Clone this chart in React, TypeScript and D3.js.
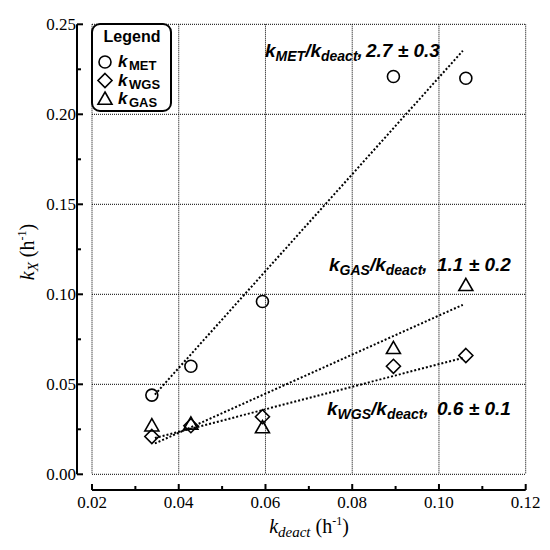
import React from 'react';
import * as d3 from 'd3';

const kDeact = [0.0338, 0.0428, 0.0593, 0.0895, 0.1062];
const kMET = [0.044, 0.060, 0.096, 0.221, 0.220];
const kWGS = [0.021, 0.027, 0.032, 0.060, 0.066];
const kGAS = [0.027, 0.028, 0.026, 0.070, 0.105];

// linear fits: slope, intercept
const fits = [
  { name: 'MET', slope: 2.69, intercept: -0.0485 },
  { name: 'GAS', slope: 1.085, intercept: -0.0203 },
  { name: 'WGS', slope: 0.627, intercept: -0.0015 },
];
const fitRange = [0.0345, 0.1055];

const xTicks = [0.02, 0.04, 0.06, 0.08, 0.10, 0.12];
const xMinor = [0.03, 0.05, 0.07, 0.09, 0.11];
const yTicks = [0.0, 0.05, 0.10, 0.15, 0.20, 0.25];
const yMinor = [0.025, 0.075, 0.125, 0.175, 0.225];

const legendItems = ['MET', 'WGS', 'GAS'];

const SANS = '"Liberation Sans", Arial, sans-serif';
const SERIF = '"Times New Roman", "Liberation Serif", serif';

const x = d3.scaleLinear().domain([0.02, 0.12]).range([92, 525.7]);
const y = d3.scaleLinear().domain([0, 0.25]).range([474.3, 24.3]);

const yAxisX = 77;
const xAxisY = 490;

const Circle = ({ cx, cy }: { cx: number; cy: number }) => (
  <circle cx={cx} cy={cy} r={6} fill="none" stroke="#000" strokeWidth={1.6} />
);
const Diamond = ({ cx, cy }: { cx: number; cy: number }) => {
  const s = 7;
  return (
    <path
      d={`M${cx},${cy - s}L${cx + s},${cy}L${cx},${cy + s}L${cx - s},${cy}Z`}
      fill="none" stroke="#000" strokeWidth={1.6}
    />
  );
};
const Triangle = ({ cx, cy }: { cx: number; cy: number }) => {
  const s = 7;
  return (
    <path
      d={`M${cx},${cy - s}L${cx + s},${cy + s * 0.75}L${cx - s},${cy + s * 0.75}Z`}
      fill="none" stroke="#000" strokeWidth={1.6}
    />
  );
};
const markers = [Circle, Diamond, Triangle];

const Annotation = ({ xk, xv, yb, sub, value }: { xk: number; xv: number; yb: number; sub: string; value: string }) => (
  <g fontFamily={SANS} fontWeight="bold" fontStyle="italic" fill="#000">
    <text x={xk} y={yb} fontSize={19}>
      k<tspan fontSize={14} dy={4}>{sub}</tspan>
      <tspan dy={-4} fontSize={19}>/k</tspan>
      <tspan fontSize={14} dy={4}>deact</tspan>
      <tspan dy={-4} fontSize={19}>,</tspan>
    </text>
    <text x={xv} y={yb} fontSize={19}>{value}</text>
  </g>
);

export default function App() {
  const line = d3.line<number>().x(d => x(d[0])).y(d => y(d[1]));
  return (
    <svg width={550} height={550} style={{ position: 'absolute', left: 0, top: 0, background: '#fff' }}>
      {/* grid */}
      <g stroke="#000" strokeWidth={1} strokeDasharray="1 1">
        {xTicks.map(t => (
          <line key={'gx' + t} x1={x(t)} x2={x(t)} y1={y(0.25)} y2={y(0)} />
        ))}
        {yTicks.map(t => (
          <line key={'gy' + t} x1={x(0.02)} x2={x(0.12)} y1={y(t)} y2={y(t)} />
        ))}
      </g>

      {/* y axis */}
      <g stroke="#000" strokeWidth={2}>
        <line x1={yAxisX} x2={yAxisX} y1={y(0.25)} y2={y(0)} />
        {yTicks.map(t => (
          <line key={'ty' + t} x1={yAxisX} x2={yAxisX + 6} y1={y(t)} y2={y(t)} />
        ))}
        {yMinor.map(t => (
          <line key={'tym' + t} x1={yAxisX} x2={yAxisX + 4} y1={y(t)} y2={y(t)} />
        ))}
      </g>
      {yTicks.map(t => (
        <text key={'ly' + t} x={yAxisX - 1} y={y(t)} dy="0.35em" fontFamily={SERIF} fontSize={17} textAnchor="end" fill="#000">
          {t.toFixed(2)}
        </text>
      ))}

      {/* x axis */}
      <g stroke="#000" strokeWidth={2}>
        <line x1={x(0.02)} x2={x(0.12)} y1={xAxisY} y2={xAxisY} />
        {xTicks.map(t => (
          <line key={'tx' + t} x1={x(t)} x2={x(t)} y1={xAxisY} y2={xAxisY - 6} />
        ))}
        {xMinor.map(t => (
          <line key={'txm' + t} x1={x(t)} x2={x(t)} y1={xAxisY} y2={xAxisY - 4} />
        ))}
      </g>
      {xTicks.map(t => (
        <text key={'lx' + t} x={x(t)} y={508} fontFamily={SERIF} fontSize={17} textAnchor="middle" fill="#000">
          {t.toFixed(2)}
        </text>
      ))}

      {/* axis titles */}
      <text x={309} y={533} fontFamily={SERIF} fontSize={20} textAnchor="middle" fill="#000">
        <tspan fontStyle="italic">k</tspan>
        <tspan fontStyle="italic" fontSize={15} dy={4}>deact</tspan>
        <tspan dy={-4}> (h</tspan>
        <tspan fontSize={12} dy={-8}>-1</tspan>
        <tspan dy={8}>)</tspan>
      </text>
      <text transform="translate(34,252) rotate(-90)" fontFamily={SERIF} fontSize={20} textAnchor="middle" fill="#000">
        <tspan fontStyle="italic">k</tspan>
        <tspan fontStyle="italic" fontSize={15} dy={4}>X</tspan>
        <tspan dy={-4}> (h</tspan>
        <tspan fontSize={12} dy={-8}>-1</tspan>
        <tspan dy={8}>)</tspan>
      </text>

      {/* fit lines */}
      <g fill="none" stroke="#000" strokeWidth={2} strokeDasharray="2 2">
        {fits.map(f => (
          <path key={f.name} d={line(fitRange.map(v => [v, f.slope * v + f.intercept]) as any) || ''} />
        ))}
      </g>

      {/* points */}
      {kDeact.map((v, i) => <Circle key={'m' + i} cx={x(v)} cy={y(kMET[i])} />)}
      {kDeact.map((v, i) => <Diamond key={'w' + i} cx={x(v)} cy={y(kWGS[i])} />)}
      {kDeact.map((v, i) => <Triangle key={'g' + i} cx={x(v)} cy={y(kGAS[i])} />)}

      {/* annotations */}
      <Annotation xk={265} xv={366} yb={57} sub="MET" value="2.7 ± 0.3" />
      <Annotation xk={329} xv={437} yb={271} sub="GAS" value="1.1 ± 0.2" />
      <Annotation xk={327} xv={437} yb={415} sub="WGS" value="0.6 ± 0.1" />

      {/* legend */}
      <rect x={92} y={24} width={79} height={87} rx={8} fill="#fff" stroke="#000" strokeWidth={2} />
      <text x={132} y={42} textAnchor="middle" fontFamily={SANS} fontWeight="bold" fontSize={16}>Legend</text>
      {legendItems.map((s, i) => {
        const cy = 62 + i * 18.5;
        const M = markers[i];
        return (
          <g key={s}>
            <M cx={105} cy={cy} />
            <text x={118} y={cy + 5} fontFamily={SANS} fontWeight="bold" fontStyle="italic" fontSize={17} fill="#000">k</text>
            <text x={129} y={cy + 8} fontFamily={SANS} fontWeight="bold" fontSize={13} fill="#000">{s}</text>
          </g>
        );
      })}
    </svg>
  );
}
